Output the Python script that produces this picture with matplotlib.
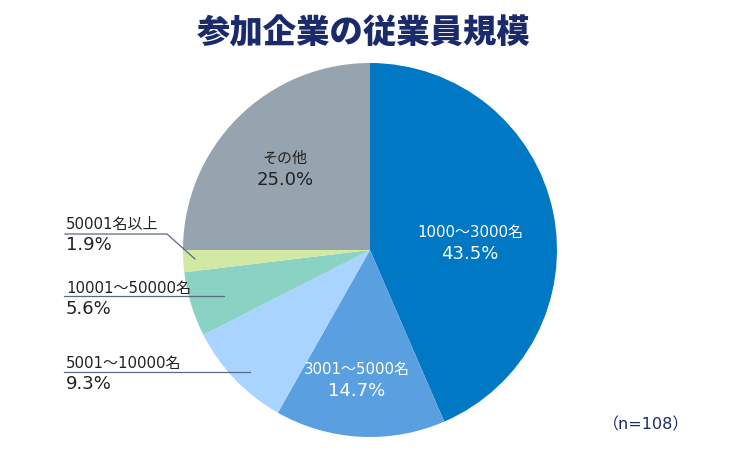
import matplotlib.pyplot as plt

# slices, clockwise from 12 o'clock
categories = ["1000～3000名", "3001～5000名", "5001～10000名",
              "10001～50000名", "50001名以上", "その他"]
shares = [43.5, 14.7, 9.3, 5.6, 1.9, 25.0]
pct_labels = ["43.5%", "14.7%", "9.3%", "5.6%", "1.9%", "25.0%"]
colors = ["#0078C4", "#5A9FE0", "#A8D4FF", "#8AD2C3", "#D1E9A3", "#96A4AF"]

TITLE = "参加企業の従業員規模"
NOTE = "（n=108）"
NAVY = "#1B2A6B"
FONT = ["DejaVu Sans", "Noto Sans CJK JP"]

W, H = 740, 458
fig = plt.figure(figsize=(W / 100, H / 100), dpi=100)
ax = fig.add_axes([0, 0, 1, 1])


def Y(y):
    # pixel row (top origin) -> data y
    return H - y


ax.pie(shares, colors=colors, startangle=90, counterclock=False,
       center=(370, Y(250)), radius=187,
       wedgeprops=dict(linewidth=0))

# pie() resets limits, so fix the pixel frame afterwards
ax.set_xlim(0, W)
ax.set_ylim(0, H)
ax.set_aspect("equal")
ax.axis("off")

ax.text(364, Y(33), TITLE, ha="center", va="center", fontsize=24,
        fontweight="heavy", color=NAVY, family=["Noto Sans CJK JP"])

# labels inside the pie
inside = [(0, 470, 232, "white"), (1, 357, 369, "white"), (5, 285, 158, "#222222")]
for i, x, y, c in inside:
    ax.text(x, Y(y), categories[i], ha="center", va="center", fontsize=10.8,
            color=c, family=FONT)
    ax.text(x, Y(y + 22), pct_labels[i], ha="center", va="center", fontsize=13,
            color=c, family=FONT)

# labels on the left with leader lines
outside = [(4, 224, [(65, 234), (167, 234), (195, 259)]),
           (3, 288, [(64, 296), (224, 296)]),
           (2, 363, [(64, 372), (250, 372)])]
for i, y, pts in outside:
    ax.text(66, Y(y), categories[i], ha="left", va="center", fontsize=10.8,
            color="#222222", family=FONT)
    ax.text(66, Y(y + 21), pct_labels[i], ha="left", va="center", fontsize=13,
            color="#222222", family=FONT)
    xs = [p[0] for p in pts]
    ys = [Y(p[1]) for p in pts]
    ax.plot(xs, ys, color="#5A6A80", lw=0.9)

ax.text(646, Y(425), NOTE, ha="center", va="center", fontsize=11.5,
        color=NAVY, family=FONT)

fig.savefig("out.png", dpi=100)
